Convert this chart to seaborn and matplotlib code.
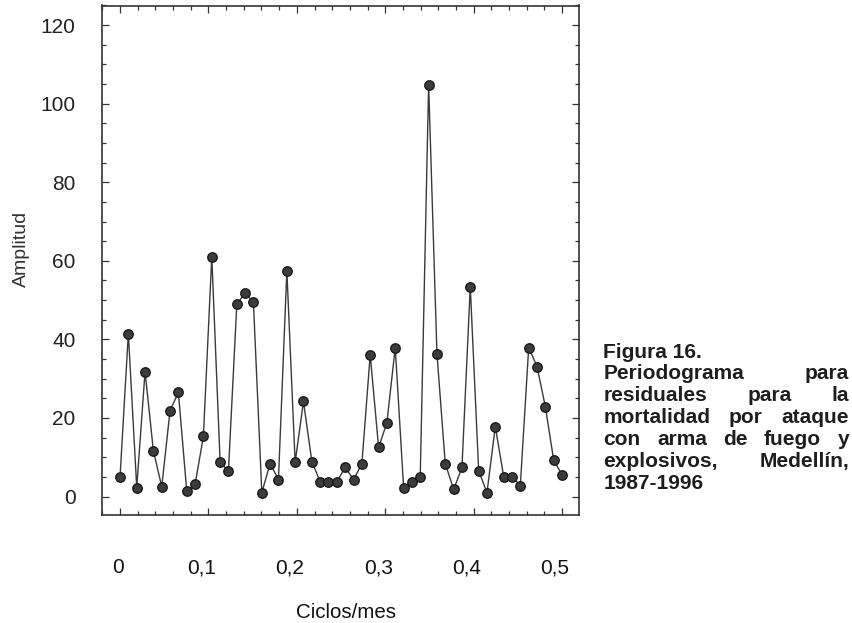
import numpy as np
import pandas as pd
import matplotlib
matplotlib.use("Agg")
import matplotlib.pyplot as plt
from matplotlib.ticker import MultipleLocator, FixedLocator
from matplotlib.transforms import ScaledTranslation
import seaborn as sns

# Periodogram ordinates (frequency in cycles/month, amplitude)
frecuencia = [
    0.0000, 0.0094, 0.0189, 0.0283, 0.0377, 0.0472, 0.0566, 0.0660, 0.0755, 0.0849,
    0.0943, 0.1038, 0.1132, 0.1226, 0.1321, 0.1415, 0.1509, 0.1604, 0.1698, 0.1792,
    0.1887, 0.1981, 0.2075, 0.2170, 0.2264, 0.2358, 0.2453, 0.2547, 0.2642, 0.2736,
    0.2830, 0.2925, 0.3019, 0.3113, 0.3208, 0.3302, 0.3396, 0.3491, 0.3585, 0.3679,
    0.3774, 0.3868, 0.3962, 0.4057, 0.4151, 0.4245, 0.4340, 0.4434, 0.4528, 0.4623,
    0.4717, 0.4811, 0.4906, 0.5000,
]
amplitud = [
    4.9, 41.5, 2.3, 31.8, 11.7, 2.5, 21.9, 26.5, 1.3, 3.1,
    15.3, 61.1, 8.9, 6.4, 48.9, 51.9, 49.4, 1.0, 8.4, 4.3,
    57.5, 8.7, 24.2, 8.9, 3.8, 3.8, 3.8, 7.4, 4.3, 8.4,
    36.1, 12.5, 18.8, 37.9, 2.3, 3.6, 5.1, 104.8, 36.4, 8.4,
    1.8, 7.4, 53.4, 6.6, 1.0, 17.8, 5.1, 5.1, 2.8, 37.9,
    33.1, 22.9, 9.2, 5.6,
]

x_ticks = [0.0, 0.1, 0.2, 0.3, 0.4, 0.5]
x_tick_labels = ["0", "0,1", "0,2", "0,3", "0,4", "0,5"]
y_ticks = [0, 20, 40, 60, 80, 100, 120]

caption_lines = [
    "Figura 16.",
    "Periodograma para",
    "residuales para la",
    "mortalidad por ataque",
    "con arma de fuego y",
    "explosivos, Medellín,",
    "1987-1996",
]
justified = [False, True, True, True, True, True, False]

df = pd.DataFrame({"frecuencia": frecuencia, "amplitud": amplitud})

sns.set_style("ticks")
plt.rcParams["font.family"] = ["Liberation Sans", "DejaVu Sans"]

W, H = 853, 623
fig = plt.figure(figsize=(W / 100, H / 100), dpi=100)
ax = fig.add_axes([102 / W, 1 - 515 / H, 477 / W, 509.5 / H])

sns.lineplot(
    data=df, x="frecuencia", y="amplitud", ax=ax,
    color="#3a3a3a", linewidth=1.0, marker="o", markersize=6.8,
    markerfacecolor="#3c3c3c", markeredgecolor="#1a1a1a", markeredgewidth=1.0,
)

ax.set_xlim(-0.0204, 0.5192)
ax.set_ylim(-4.7, 125)

ax.xaxis.set_major_locator(FixedLocator(x_ticks))
ax.set_xticklabels(x_tick_labels)
ax.xaxis.set_minor_locator(MultipleLocator(0.02))
ax.yaxis.set_major_locator(FixedLocator(y_ticks))
ax.yaxis.set_minor_locator(MultipleLocator(5))

ax.tick_params(axis="both", which="both", direction="in", top=True, right=True,
               color="#333333", width=0.9)
ax.tick_params(axis="both", which="major", length=5)
ax.tick_params(axis="both", which="minor", length=3)
ax.tick_params(axis="x", which="major", labelsize=15, pad=31, labelcolor="#111111")
ax.tick_params(axis="y", which="major", labelsize=15, pad=19, labelcolor="#222222")

# x labels sit slightly left of their ticks
for i, lab in enumerate(ax.get_xticklabels()):
    dx = -2 if i == 0 else -7
    lab.set_transform(lab.get_transform() + ScaledTranslation(dx / 100, 0, fig.dpi_scale_trans))

for sp in ax.spines.values():
    sp.set_color("#333333")
    sp.set_linewidth(1.2)

ax.set_xlabel("Ciclos/mes", fontsize=14.8, color="#111111", va="center")
ax.xaxis.set_label_coords((346.5 - 102) / 477, -(612 - 515) / 509.5)
ax.set_ylabel("")
fig.text(21.5 / W, 1 - 249 / H, "Amplitud", rotation=90, ha="center", va="center",
         fontsize=14, color="#333333")

# Justified caption block to the right of the plot
renderer = fig.canvas.get_renderer()
left_px, right_px = 603.5, 849
base_px, line_step = 357.5, 21.95
cap_kw = dict(fontsize=15, fontweight="bold", color="#1e1e1e", va="baseline")
for i, (line, just) in enumerate(zip(caption_lines, justified)):
    y = 1 - (base_px + i * line_step) / H
    words = line.split(" ")
    if not just or len(words) == 1:
        fig.text(left_px / W, y, line, ha="left", **cap_kw)
        continue
    objs = [fig.text(0, y, w, ha="left", **cap_kw) for w in words]
    widths = [o.get_window_extent(renderer).width for o in objs]
    gap = (right_px - left_px - sum(widths)) / (len(words) - 1)
    x = left_px
    for o, w in zip(objs, widths):
        o.set_x(x / W)
        x += w + gap

fig.savefig("out.png", dpi=100)
